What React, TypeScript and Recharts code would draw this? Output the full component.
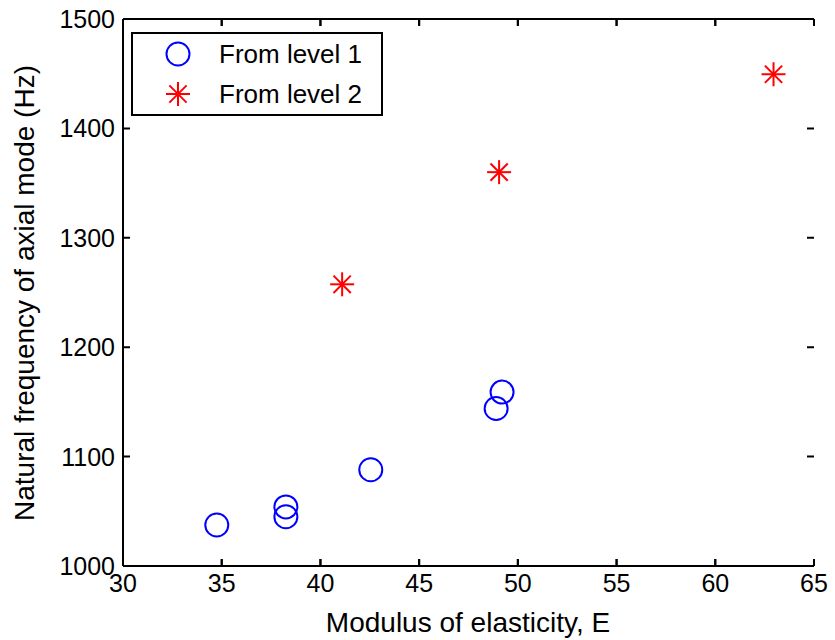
import { ReferenceLine, Scatter, ScatterChart, XAxis, YAxis } from 'recharts'

const level1E = [34.75, 38.25, 38.25, 42.55, 49.2, 48.9]
const level1Freq = [1037.5, 1054, 1045, 1088, 1159, 1144]
const level2E = [41.1, 49.05, 62.95]
const level2Freq = [1257.5, 1360, 1449.5]
const xTicks = [30, 35, 40, 45, 50, 55, 60, 65]
const yTicks = [1000, 1100, 1200, 1300, 1400, 1500]

const level1 = level1E.map((e, i) => ({ e, freq: level1Freq[i] }))
const level2 = level2E.map((e, i) => ({ e, freq: level2Freq[i] }))

const FONT = '"Liberation Sans", Arial, Helvetica, sans-serif'
const TICK_LEN = 7
const LINE_W = 2
// plot box edges (chart margin + axis sizes)
const PLOT_TOP = 19
const PLOT_RIGHT = 814
// tick stub length in data units of the y axis (7px / 1.094 px per Hz)
const X_TICK_STUB = 6.4

function Circle({ cx, cy }: any) {
  return <circle cx={cx} cy={cy} r={11.5} fill="none" stroke="#0000ff" strokeWidth={2} />
}

function Star({ cx, cy }: any) {
  const r = 12
  const d = r * 0.72
  return (
    <g stroke="#ff0000" strokeWidth={2}>
      <line x1={cx - r} y1={cy} x2={cx + r} y2={cy} />
      <line x1={cx} y1={cy - r} x2={cx} y2={cy + r} />
      <line x1={cx - d} y1={cy - d} x2={cx + d} y2={cy + d} />
      <line x1={cx - d} y1={cy + d} x2={cx + d} y2={cy - d} />
    </g>
  )
}

// inward ticks on bottom and top edges
function BottomTick({ x, y, payload }: any) {
  return (
    <g>
      <path
        d={`M${x},${y}V${y - TICK_LEN}M${x},${PLOT_TOP}V${PLOT_TOP + TICK_LEN}`}
        stroke="#000"
        strokeWidth={LINE_W}
        fill="none"
      />
      <text x={x} y={y + 26} textAnchor="middle" fontSize={25} fontFamily={FONT} fill="#000">
        {payload.value}
      </text>
    </g>
  )
}

// inward ticks on left and right edges
function LeftTick({ x, y, payload }: any) {
  return (
    <g>
      <path
        d={`M${x},${y}H${x + TICK_LEN}M${PLOT_RIGHT},${y}H${PLOT_RIGHT - TICK_LEN}`}
        stroke="#000"
        strokeWidth={LINE_W}
        fill="none"
      />
      <text x={x - 8} y={y + 9} textAnchor="end" fontSize={25} fontFamily={FONT} fill="#000">
        {payload.value}
      </text>
    </g>
  )
}

function LegendBox() {
  const row = (marker: any, label: string) => (
    <div style={{ display: 'flex', alignItems: 'center', height: 40 }}>
      <svg width={60} height={40} style={{ marginLeft: 14 }}>
        {marker}
      </svg>
      <span style={{ fontSize: 26, fontFamily: FONT, color: '#000', marginLeft: 12 }}>{label}</span>
    </div>
  )
  return (
    <div
      style={{
        position: 'absolute',
        left: 131,
        top: 32,
        width: 252,
        height: 84,
        border: '2px solid #000',
        background: '#fff',
        boxSizing: 'border-box',
      }}
    >
      {row(<Circle cx={31} cy={20} />, 'From level 1')}
      {row(<Star cx={31} cy={20} />, 'From level 2')}
    </div>
  )
}

export default function App() {
  return (
    <div style={{ position: 'absolute', left: 0, top: 0, width: 835, height: 640, background: '#fff' }}>
      <ScatterChart width={835} height={640} margin={{ top: 18, right: 21, left: 0, bottom: 0 }}>
        <XAxis
          xAxisId="top"
          orientation="top"
          type="number"
          domain={[30, 65]}
          height={1}
          stroke="#000"
          strokeWidth={LINE_W}
          tickLine={false}
          tick={false}
        />
        <XAxis
          dataKey="e"
          type="number"
          domain={[30, 65]}
          ticks={xTicks}
          height={74}
          stroke="#000"
          strokeWidth={LINE_W}
          tickLine={false}
          tickSize={0}
          tickMargin={0}
          tick={<BottomTick />}
          interval={0}
          allowDataOverflow
          label={() => (
            <text x={468} y={632} textAnchor="middle" fontSize={28} fontFamily={FONT} fill="#000">
              Modulus of elasticity, E
            </text>
          )}
        />
        <YAxis
          dataKey="freq"
          type="number"
          domain={[1000, 1500]}
          ticks={yTicks}
          width={123}
          stroke="#000"
          strokeWidth={LINE_W}
          tickLine={false}
          tickSize={0}
          tickMargin={0}
          tick={<LeftTick />}
          interval={0}
          allowDataOverflow
          label={() => (
            <text
              x={34}
              y={293}
              transform="rotate(-90 34 293)"
              textAnchor="middle"
              fontSize={28}
              fontFamily={FONT}
              fill="#000"
            >
              Natural frequency of axial mode (Hz)
            </text>
          )}
        />
        <YAxis
          yAxisId="right"
          orientation="right"
          type="number"
          domain={[1000, 1500]}
          width={0}
          stroke="#000"
          strokeWidth={LINE_W}
          tickLine={false}
          tick={false}
        />
        {xTicks.map((t) => (
          <ReferenceLine
            key={`b${t}`}
            segment={[{ x: t, y: 1000 }, { x: t, y: 1000 + X_TICK_STUB }]}
            stroke="#000"
            strokeWidth={LINE_W}
            ifOverflow="visible"
          />
        ))}
        {xTicks.map((t) => (
          <ReferenceLine
            key={`t${t}`}
            segment={[{ x: t, y: 1500 - X_TICK_STUB }, { x: t, y: 1500 }]}
            stroke="#000"
            strokeWidth={LINE_W}
            ifOverflow="visible"
          />
        ))}
        <Scatter name="From level 1" data={level1} shape={<Circle />} isAnimationActive={false} />
        <Scatter name="From level 2" data={level2} shape={<Star />} isAnimationActive={false} />
      </ScatterChart>
      <LegendBox />
    </div>
  )
}
